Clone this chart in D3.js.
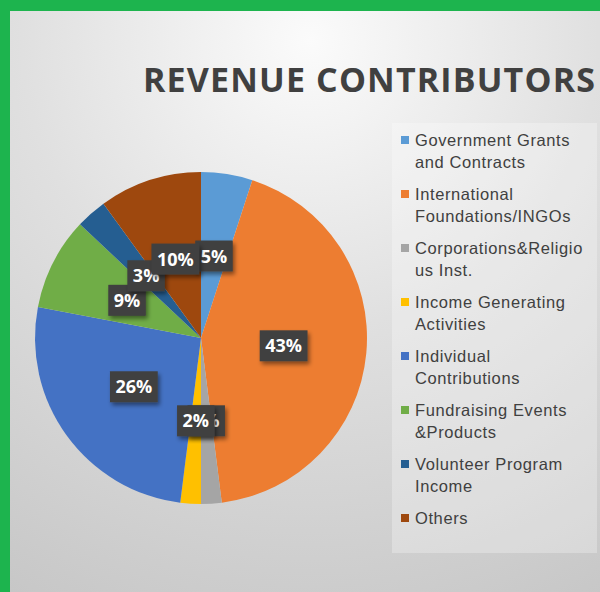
<!DOCTYPE html>
<html>
<head>
<meta charset="utf-8">
<script src="https://cdn.jsdelivr.net/npm/d3@7"></script>
<style>
  html, body { margin: 0; padding: 0; background: #1db44e; }
  #chart { width: 600px; height: 592px; }
</style>
</head>
<body>
<div id="chart"></div>
<script>
// revenue split, in percent
const categories = [
    "Government Grants and Contracts",
    "International Foundations/INGOs",
    "Corporations&Religious Inst.",
    "Income Generating Activities",
    "Individual Contributions",
    "Fundraising Events &Products",
    "Volunteer Program Income",
    "Others"
];
const legendLines = [
    ["Government Grants", "and Contracts"],
    ["International", "Foundations/INGOs"],
    ["Corporations&Religio", "us Inst."],
    ["Income Generating", "Activities"],
    ["Individual", "Contributions"],
    ["Fundraising Events", "&Products"],
    ["Volunteer Program", "Income"],
    ["Others"]
];
const values = [5, 43, 2, 2, 26, 9, 3, 10];
const colors = ["#5b9bd5", "#ed7d31", "#a5a5a5", "#ffc000", "#4472c4", "#70ad47", "#255e91", "#9e480e"];

const width = 600, height = 592;
const svg = d3.select("#chart").append("svg")
    .attr("width", width)
    .attr("height", height);

const defs = svg.append("defs");
const bg = defs.append("radialGradient")
    .attr("id", "bg")
    .attr("gradientUnits", "userSpaceOnUse")
    .attr("cx", 310).attr("cy", 40).attr("r", 640);
bg.append("stop").attr("offset", "0%").attr("stop-color", "#fbfbfb");
bg.append("stop").attr("offset", "45%").attr("stop-color", "#e0e0e0");
bg.append("stop").attr("offset", "100%").attr("stop-color", "#c6c6c6");

const shadow = defs.append("filter").attr("id", "shadow")
    .attr("x", "-30%").attr("y", "-30%").attr("width", "170%").attr("height", "170%");
shadow.append("feDropShadow")
    .attr("dx", 2).attr("dy", 3).attr("stdDeviation", 2)
    .attr("flood-color", "#000").attr("flood-opacity", 0.45);

// panel background
svg.append("rect")
    .attr("x", 10).attr("y", 11)
    .attr("width", width - 10).attr("height", height - 11)
    .attr("fill", "url(#bg)");

// title
const title = svg.append("text")
    .attr("x", 143).attr("y", 92)
    .attr("fill", "#404040")
    .style("font-family", "'Open Sans', sans-serif")
    .style("font-weight", "bold")
    .style("font-size", "34px")
    .text("REVENUE CONTRIBUTORS");
const tw = title.node().getComputedTextLength();
title.style("letter-spacing", ((452 - tw) / 19) + "px");

// pie
const cx = 201, cy = 338, radius = 166;
const pie = d3.pie().sort(null).value(d => d);
const arcs = pie(values);
const arc = d3.arc().innerRadius(0).outerRadius(radius);

const g = svg.append("g").attr("transform", `translate(${cx},${cy})`);

g.selectAll("path")
    .data(arcs)
    .enter()
    .append("path")
    .attr("d", arc)
    .attr("fill", (d, i) => colors[i]);

// data labels
const labels = g.selectAll("g.label")
    .data(arcs)
    .enter()
    .append("g")
    .attr("class", "label")
    .attr("transform", d => `translate(${arc.centroid(d)})`);

labels.each(function(d) {
    const lg = d3.select(this);
    const rect = lg.append("rect").attr("fill", "#404040").attr("filter", "url(#shadow)");
    const t = lg.append("text")
        .attr("text-anchor", "middle")
        .attr("dy", "0.36em")
        .attr("fill", "#fff")
        .style("font-family", "'Open Sans', sans-serif")
        .style("font-weight", "bold")
        .style("font-size", "18px")
        .text(d.data + "%");
    const w = t.node().getComputedTextLength() + 11;
    rect.attr("x", -w / 2).attr("y", -15.5).attr("width", w).attr("height", 31);
});

// legend
svg.append("rect")
    .attr("x", 392).attr("y", 123)
    .attr("width", 205).attr("height", 430)
    .attr("fill", "#ffffff").attr("fill-opacity", 0.28);

const legend = svg.append("g")
    .selectAll("g")
    .data(categories)
    .enter()
    .append("g")
    .attr("transform", (d, i) => `translate(401,${146 + i * 54})`);

legend.append("rect")
    .attr("x", 0).attr("y", -10)
    .attr("width", 8).attr("height", 8)
    .attr("fill", (d, i) => colors[i]);

legend.append("text")
    .attr("x", 14)
    .attr("fill", "#404040")
    .style("font-family", "'Liberation Sans', Arial, sans-serif")
    .style("font-size", "16.5px")
    .style("letter-spacing", "0.6px")
    .each(function(d, i) {
        const t = d3.select(this);
        legendLines[i].forEach((line, j) => {
            t.append("tspan").attr("x", 14).attr("y", j * 21.5).text(line);
        });
    });
</script>
</body>
</html>
